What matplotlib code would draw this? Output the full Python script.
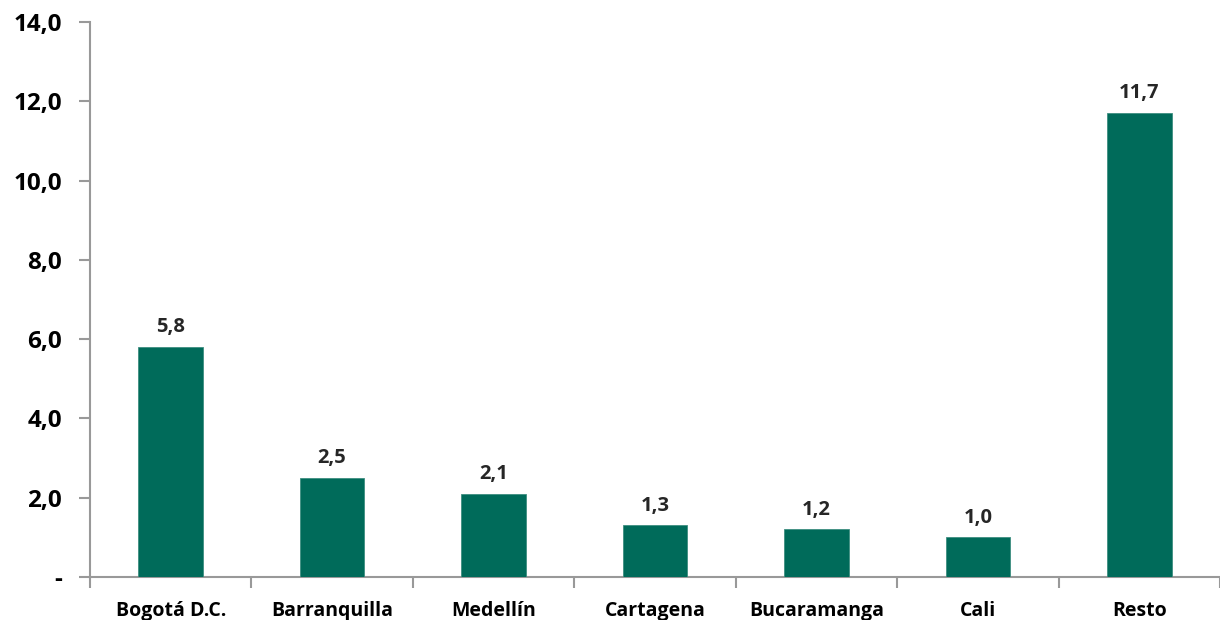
import numpy as np
import matplotlib.pyplot as plt

# data
ciudades = ['Bogotá D.C.', 'Barranquilla', 'Medellín', 'Cartagena',
            'Bucaramanga', 'Cali', 'Resto']
valores = [5.8, 2.5, 2.1, 1.3, 1.2, 1.0, 11.7]
y_ticks = [0, 2, 4, 6, 8, 10, 12, 14]

plt.rcParams['font.family'] = ['Open Sans', 'DejaVu Sans']
plt.rcParams['font.weight'] = 'bold'

fig = plt.figure(figsize=(12.2, 6.2), dpi=100)
ax = fig.add_axes([0.0738, 0.0694, 0.9262, 0.8951])

x = np.arange(len(ciudades))
bars = ax.bar(x, valores, width=0.4, color='#006B5A', edgecolor='#3E8E80',
              linewidth=0.6, zorder=3)

for b, v in zip(bars, valores):
    ax.annotate(('%.1f' % v).replace('.', ','),
                (b.get_x() + b.get_width() / 2, b.get_height()),
                xytext=(0, 7), textcoords='offset points',
                ha='center', va='bottom', fontsize=14.5,
                fontweight='bold', color='#262626')

ax.set_xlim(-0.5, len(ciudades) - 0.5)
ax.set_ylim(0, 14)

# y axis
ax.set_yticks(y_ticks)
ax.set_yticklabels(['-' if t == 0 else ('%.1f' % t).replace('.', ',') for t in y_ticks],
                   fontsize=17.5, fontweight='bold')
ax.tick_params(axis='y', length=8, width=1.5, color='#999999', pad=12)

# x axis: ticks between categories, labels centred
ax.set_xticks(np.arange(-0.5, len(ciudades) + 0.5, 1))
ax.set_xticklabels([])
ax.set_xticks(x, minor=True)
ax.set_xticklabels(ciudades, minor=True, fontsize=14, fontweight='bold')
ax.tick_params(axis='x', which='major', length=8, width=1.5, color='#999999')
ax.tick_params(axis='x', which='minor', length=0, pad=17)

for s in ['top', 'right']:
    ax.spines[s].set_visible(False)
for s in ['left', 'bottom']:
    ax.spines[s].set_color('#999999')
    ax.spines[s].set_linewidth(1.5)

fig.savefig('out.png', dpi=100)
